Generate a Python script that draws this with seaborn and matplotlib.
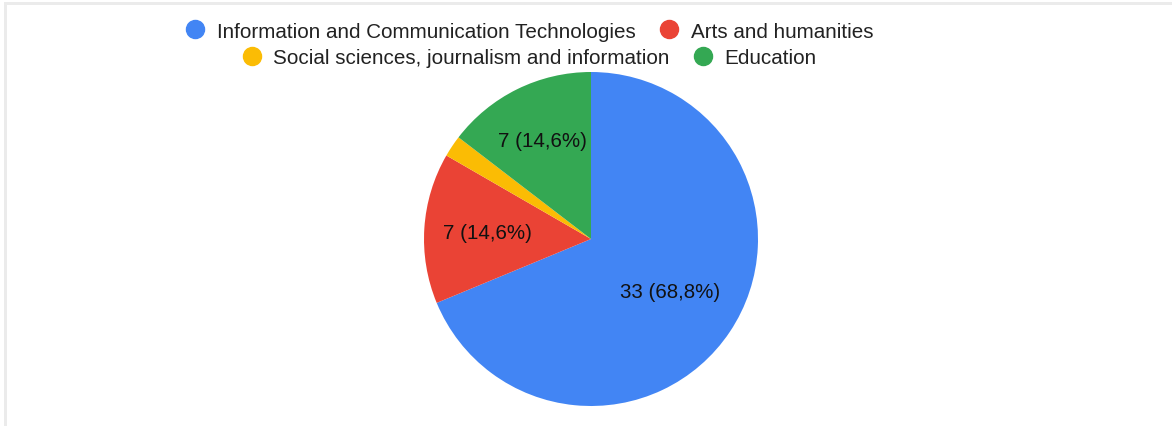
import matplotlib
matplotlib.use("Agg")
import matplotlib.pyplot as plt
import seaborn as sns
from matplotlib.lines import Line2D
from matplotlib.patches import Rectangle
import numpy as np

# Data
categories = [
    "Information and Communication Technologies",
    "Arts and humanities",
    "Social sciences, journalism and information",
    "Education",
]
counts = [33, 7, 1, 7]
colors = ["#4285F4", "#EA4335", "#FBBC04", "#34A853"]

# Label placement (fraction of radius) per slice; 0 = no label
label_radius = [0.57, 0.62, 0.0, 0.66]

sns.set_theme(style="white")
plt.rcParams["font.family"] = ["Liberation Sans", "DejaVu Sans"]

W, H = 1172, 427
fig = plt.figure(figsize=(W / 100, H / 100), dpi=100)
fig.patch.set_facecolor("white")

# Card frame (top and left edges)
frame_col = "#ebebeb"
fig.add_artist(Rectangle((4 / W, 1 - 6 / H), 1 - 4 / W, 3 / H,
                         transform=fig.transFigure, color=frame_col, lw=0))
fig.add_artist(Rectangle((4 / W, 0), 3 / W, 1 - 3 / H,
                         transform=fig.transFigure, color=frame_col, lw=0))

# Pie axes: centre (591, 240) px, radius 167 px
cx, cy, r = 591, 240, 167
ax = fig.add_axes([(cx - r) / W, (H - cy - r) / H, 2 * r / W, 2 * r / H])
wedges, _ = ax.pie(counts, colors=colors, startangle=90, counterclock=False,
                   wedgeprops=dict(linewidth=0), radius=1)
ax.set_xlim(-1, 1)
ax.set_ylim(-1, 1)
ax.set_aspect("equal")
ax.axis("off")

total = sum(counts)
for w, n, lr in zip(wedges, counts, label_radius):
    if lr <= 0:
        continue
    mid = np.deg2rad((w.theta1 + w.theta2) / 2)
    pct = f"{100 * n / total:.1f}".replace(".", ",")
    ax.text(lr * np.cos(mid), lr * np.sin(mid), f"{n} ({pct}%)",
            ha="center", va="center", fontsize=14.8, color="#111111")

# Legend in two centred rows
def handle(c):
    return Line2D([], [], marker="o", linestyle="none", markersize=13,
                  markerfacecolor=c, markeredgecolor=c)

rows = [(0, 1, 32), (2, 3, 59)]
for i, j, ypix in rows:
    leg = fig.legend([handle(colors[i]), handle(colors[j])],
                     [categories[i], categories[j]],
                     loc="center", bbox_to_anchor=(529 / W, 1 - ypix / H),
                     ncol=2, frameon=False, fontsize=14.9,
                     handlelength=1.0, handletextpad=0.55, columnspacing=1.1,
                     borderpad=0, borderaxespad=0)
    for t in leg.get_texts():
        t.set_color("#222222")

fig.savefig("out.png", dpi=100, facecolor="white")
